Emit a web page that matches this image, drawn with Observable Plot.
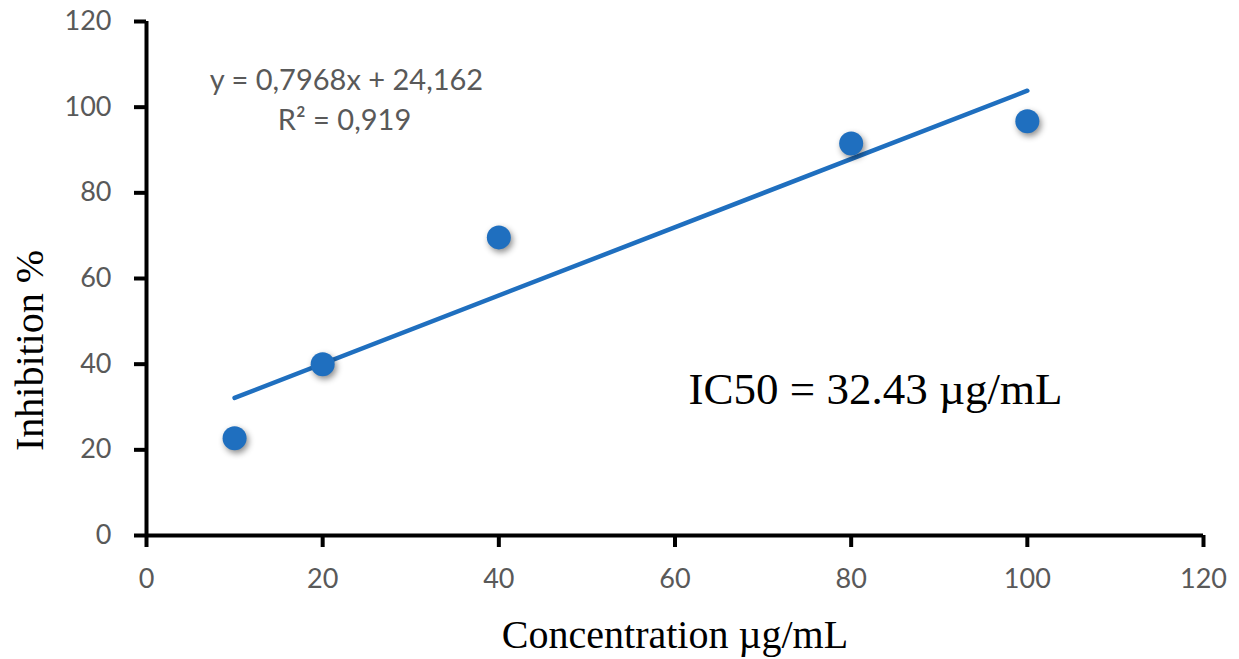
<!DOCTYPE html>
<html>
<head>
<meta charset="utf-8">
<script src="https://cdn.jsdelivr.net/npm/d3@7"></script>
<script src="https://cdn.jsdelivr.net/npm/@observablehq/plot@0.6"></script>
<style>
  html, body { margin: 0; padding: 0; background: #ffffff; }
  #chart { width: 1239px; height: 659px; }
</style>
</head>
<body>
<div id="chart"></div>
<script>
// ---- data ----
const concentration = [10, 20, 40, 80, 100];
const inhibition = [22.7, 40.0, 69.6, 91.5, 96.7];
const trendX = [10, 100];
const trendY = [32.13, 103.84];
const xTicks = [0, 20, 40, 60, 80, 100, 120];
const yTicks = [0, 20, 40, 60, 80, 100, 120];
const equationText = "y = 0,7968x + 24,162";
const r2Text = "R² = 0,919";
const ic50Text = "IC50 = 32.43 µg/mL";
const xTitle = "Concentration µg/mL";
const yTitle = "Inhibition %";

const points = concentration.map((c, i) => ({c, v: inhibition[i]}));
const trend = trendX.map((c, i) => ({c, v: trendY[i]}));

const blue = "#1f6fbf";
const serif = "'Liberation Serif', 'Times New Roman', serif";

const chart = Plot.plot({
  width: 1239,
  height: 659,
  marginLeft: 146,
  marginRight: 36,
  marginTop: 21,
  marginBottom: 124,
  style: {fontFamily: "Lato, 'Open Sans', sans-serif", fontSize: "27px", background: "#ffffff"},
  x: {domain: [0, 120], ticks: xTicks, label: null},
  y: {domain: [0, 120], ticks: yTicks, label: null},
  marks: [
    Plot.axisX({ticks: xTicks, tickSize: 12, tickPadding: 21, color: "#595959", stroke: "black", strokeWidth: 4, label: null, fontSize: 27}),
    Plot.axisY({ticks: yTicks, tickSize: 12, tickPadding: 23, color: "#595959", stroke: "black", strokeWidth: 4, label: null, fontSize: 27}),
    Plot.ruleY([0], {stroke: "black", strokeWidth: 4}),
    Plot.ruleX([0], {stroke: "black", strokeWidth: 4}),
    Plot.line(trend, {x: "c", y: "v", stroke: blue, strokeWidth: 4.5}),
    Plot.dot(points, {x: "c", y: "v", r: 12, fill: blue, stroke: "none"}),
    Plot.text([equationText], {frameAnchor: "top-left", dx: 200, dy: 68, textAnchor: "middle", lineAnchor: "bottom", fill: "#595959", fontSize: 29}),
    Plot.text([r2Text], {frameAnchor: "top-left", dx: 198, dy: 108, textAnchor: "middle", lineAnchor: "bottom", fill: "#595959", fontSize: 29}),
    Plot.text([ic50Text], {frameAnchor: "top-left", dx: 729, dy: 382, textAnchor: "middle", lineAnchor: "bottom", fill: "black", fontSize: 45, fontFamily: serif}),
    Plot.text([xTitle], {frameAnchor: "bottom", dy: 112, textAnchor: "middle", lineAnchor: "bottom", fill: "black", fontSize: 40, fontFamily: serif}),
    Plot.text([yTitle], {frameAnchor: "left", dx: -104, dy: 72, rotate: -90, textAnchor: "middle", lineAnchor: "bottom", fill: "black", fontSize: 40, fontFamily: serif})
  ]
});

document.getElementById("chart").appendChild(chart);
// soft drop shadow on the markers, as in the reference
chart.querySelectorAll('g[aria-label="dot"] circle').forEach(c => {
  c.style.filter = "drop-shadow(2px 3px 3px rgba(0,0,0,0.45))";
});
</script>
</body>
</html>
